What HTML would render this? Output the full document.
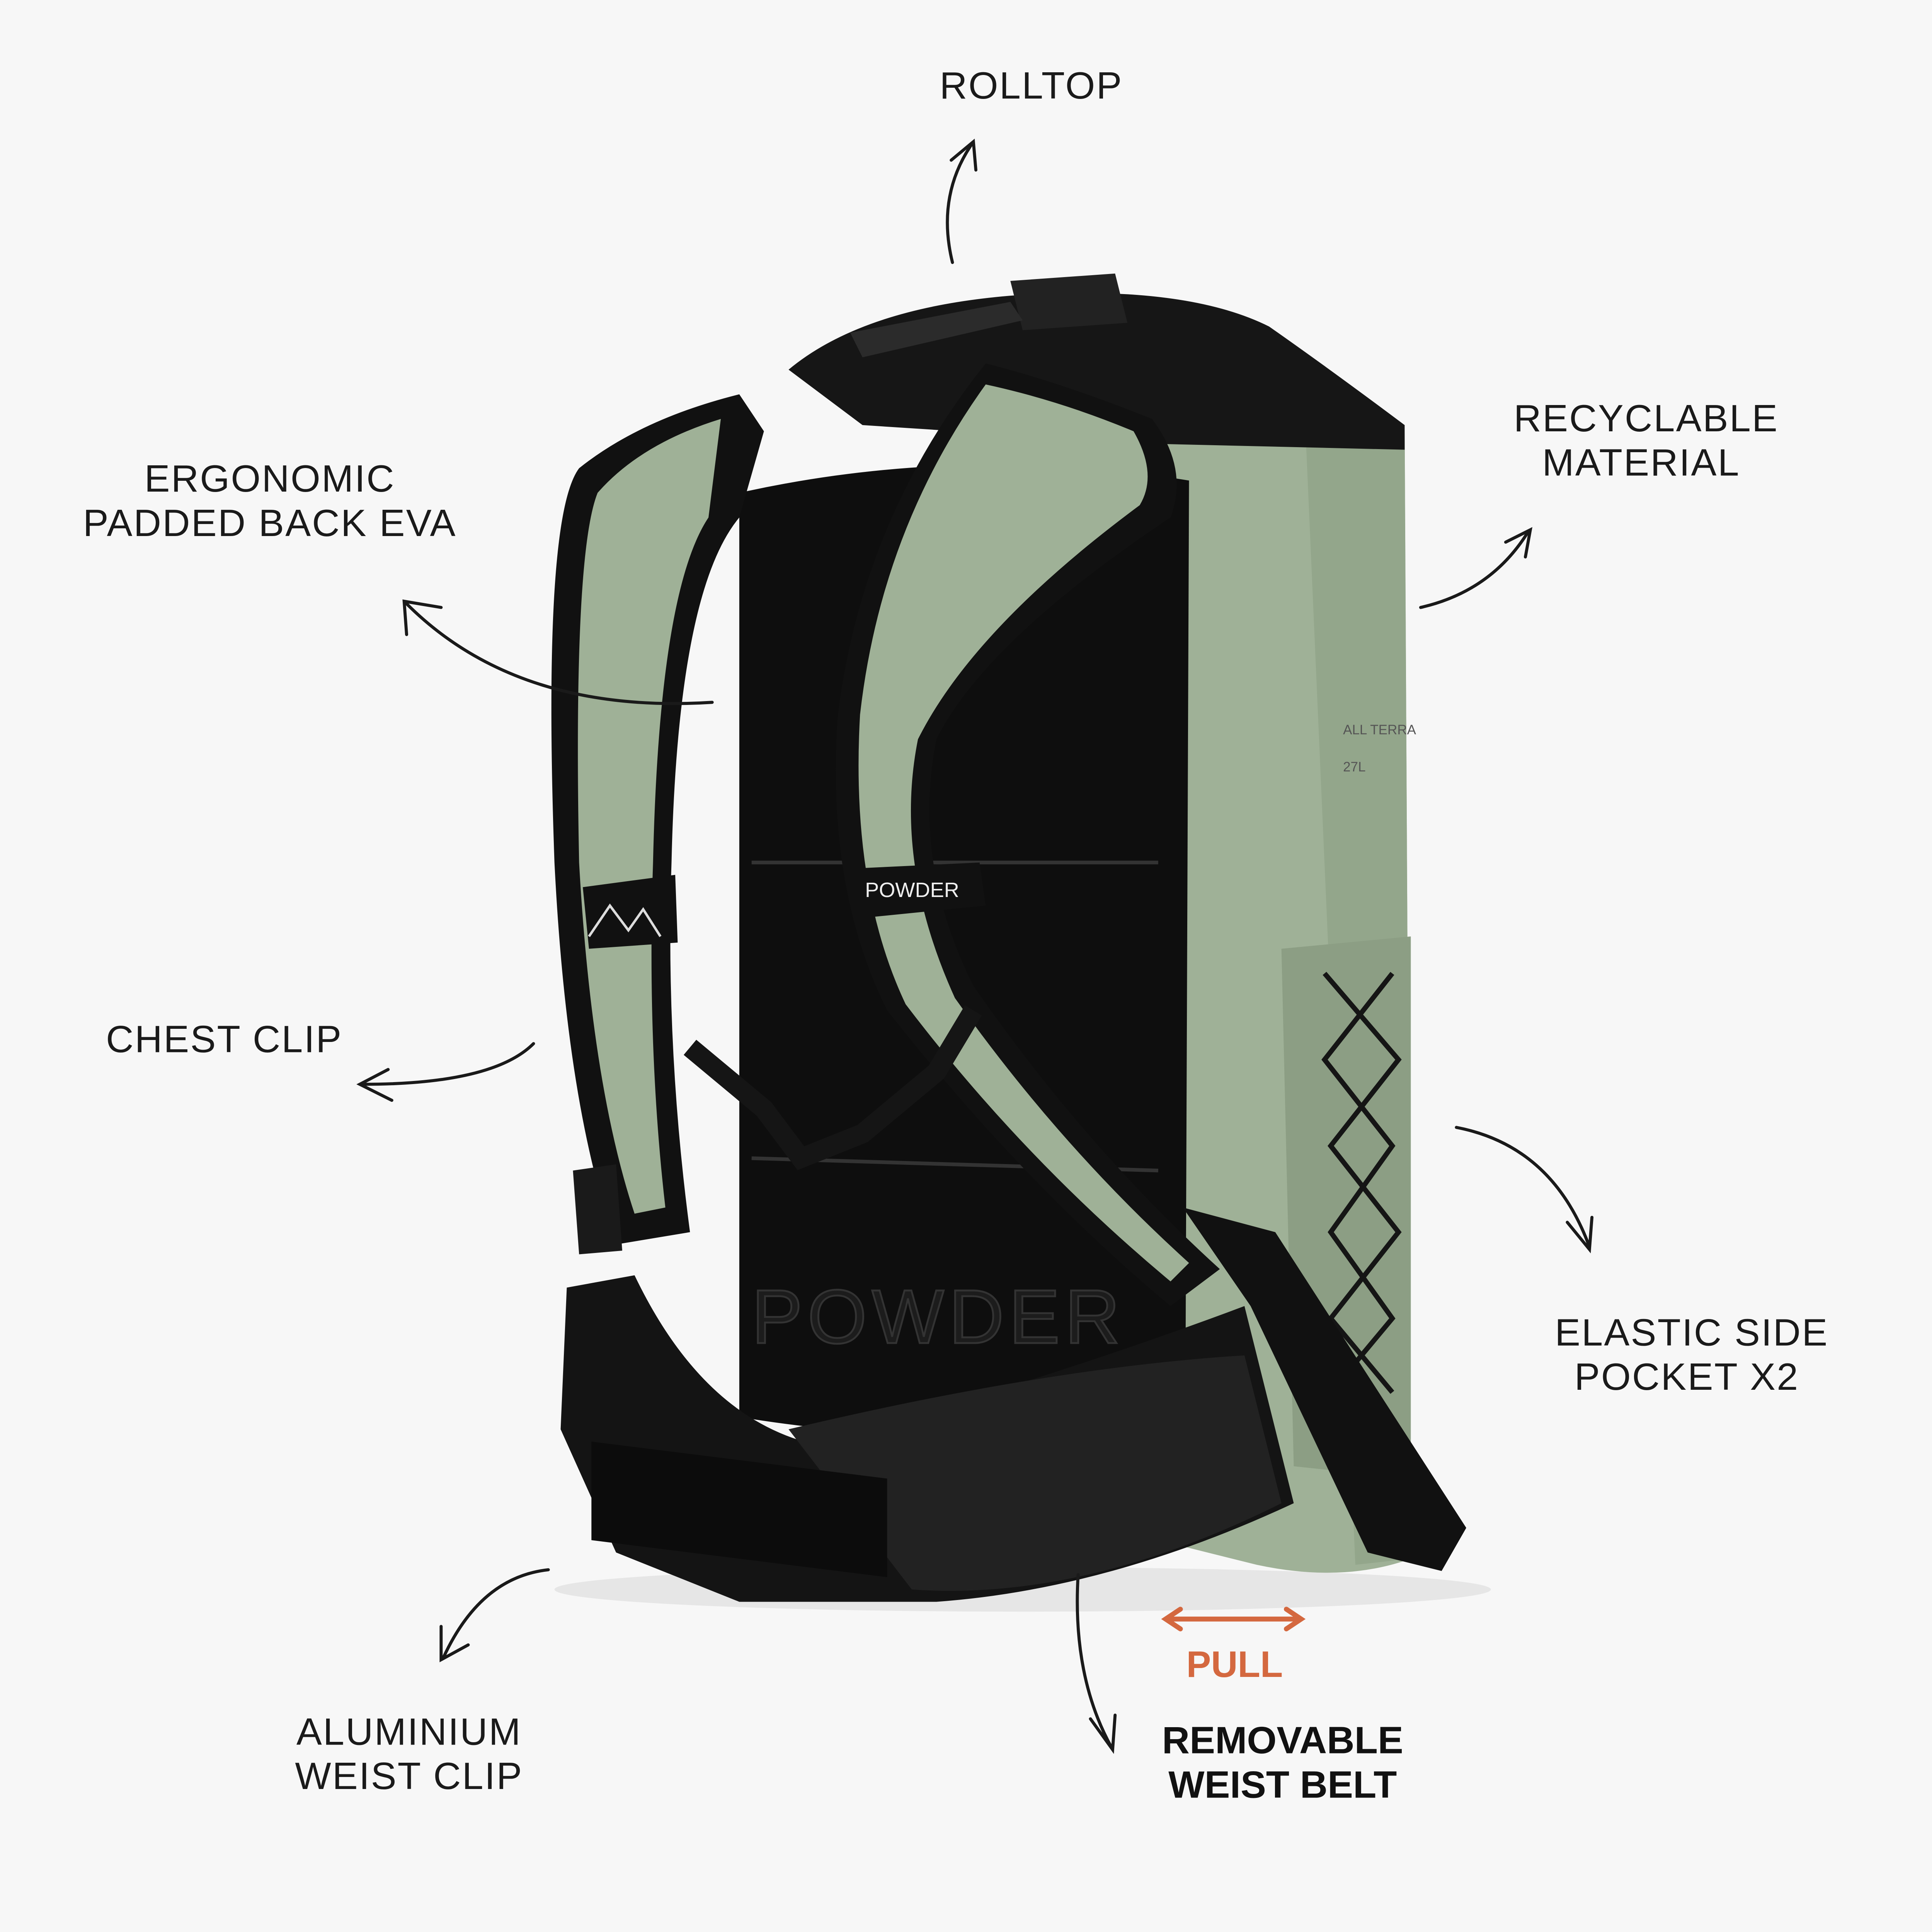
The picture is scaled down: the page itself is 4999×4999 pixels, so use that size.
<!DOCTYPE html>
<html><head><meta charset="utf-8"><style>
html,body{margin:0;padding:0;background:#f7f7f7;}
svg{display:block;}
text{font-family:"Liberation Sans",sans-serif;}
.l{font-size:31px;fill:#1a1a1a;letter-spacing:1px;}
.b{font-size:31px;fill:#111;font-weight:bold;}
.arr{fill:none;stroke:#1a1a1a;stroke-width:2.5;stroke-linecap:round;}
</style></head><body>
<svg width="4999" height="4999" viewBox="0 0 1568 1568" xmlns="http://www.w3.org/2000/svg">
<rect width="1568" height="1568" fill="#f7f7f7"/>
<ellipse cx="830" cy="1290" rx="380" ry="18" fill="#e6e6e6"/>
<path d="M930 345 L1140 345 L1145 1265 Q1090 1285 1020 1270 L940 1250 Z" fill="#9fb197"/>
<path d="M1060 360 L1140 350 L1145 1265 L1100 1270 Z" fill="#93a68b"/>
<path d="M640 300 Q700 250 820 240 Q960 230 1030 265 Q1080 300 1140 345 L1140 365 L930 360 L700 345 Z" fill="#161616"/>
<path d="M820 228 L905 222 L915 262 L830 268 Z" fill="#222"/>
<path d="M690 270 L820 245 L830 260 L700 290 Z" fill="#2b2b2b"/>
<path d="M600 400 Q780 360 965 390 L962 1150 Q780 1180 600 1150 Z" fill="#0e0e0e"/>
<path d="M610 700 L940 700 M610 940 L940 950" stroke="#333" stroke-width="3"/>
<text x="610" y="1090" font-size="62" fill="#1c1c1c" stroke="#333" stroke-width="1.5" style="font-family:'Liberation Sans',sans-serif;letter-spacing:4px">POWDER</text>
<path d="M600 320 Q520 340 470 380 Q440 420 450 700 Q460 900 500 1010 L560 1000 Q540 850 545 700 Q550 480 600 420 L620 350 Z" fill="#111"/>
<path d="M585 340 Q520 360 485 400 Q465 450 470 700 Q480 880 515 985 L540 980 Q525 850 530 700 Q535 480 575 420 Z" fill="#9fb197"/>
<path d="M473 720 L548 710 L550 765 L478 770 Z" fill="#111"/>
<path d="M478 760 L495 735 L510 755 L522 738 L536 760" stroke="#ddd" stroke-width="2" fill="none"/>
<path d="M800 295 Q860 310 935 340 Q965 380 950 420 Q800 520 760 600 Q740 700 790 800 Q880 930 990 1030 L950 1060 Q830 960 720 820 Q670 720 680 580 Q700 420 800 295 Z" fill="#111"/>
<path d="M800 312 Q860 325 920 350 Q940 385 925 410 Q790 510 745 600 Q725 700 775 810 Q860 930 965 1025 L950 1040 Q830 940 735 815 Q690 720 698 580 Q715 430 800 312 Z" fill="#9fb197"/>
<path d="M690 705 L795 700 L800 735 L700 745 Z" fill="#111"/>
<text x="702" y="728" font-size="17" fill="#eee" style="font-family:'Liberation Sans',sans-serif">POWDER</text>
<path d="M560 850 L620 900 L650 940 L700 920 L760 870 L790 820" stroke="#151515" stroke-width="16" fill="none"/>
<path d="M1040 770 L1145 760 L1145 1200 L1050 1190 Z" fill="#8c9e84"/>
<path d="M1075 790 L1135 860 L1080 930 L1135 1000 L1080 1070 L1130 1130 M1130 790 L1075 860 L1130 930 L1080 1000 L1130 1070 L1080 1130" stroke="#151515" stroke-width="4" fill="none"/>
<text x="1090" y="596" font-size="11" fill="#555">ALL TERRA</text>
<text x="1090" y="626" font-size="11" fill="#555">27L</text>
<path d="M460 1045 L515 1035 Q570 1150 660 1172 Q850 1120 1010 1060 L1050 1220 Q900 1290 760 1300 L600 1300 L500 1260 L455 1160 Z" fill="#141414"/>
<path d="M640 1160 Q850 1110 1010 1100 L1040 1220 Q880 1300 740 1290 Z" fill="#222"/>
<path d="M480 1170 L720 1200 L720 1280 L480 1250 Z" fill="#0c0c0c"/>
<path d="M465 950 L500 945 L505 1015 L470 1018 Z" fill="#1a1a1a"/>
<path d="M960 980 L1035 1000 L1190 1240 L1170 1275 L1110 1260 L1015 1060 Z" fill="#111"/>

<text class="l" x="837" y="80" text-anchor="middle">ROLLTOP</text>
<text class="l" x="1336" y="350" text-anchor="middle">RECYCLABLE</text>
<text class="l" x="1332" y="386" text-anchor="middle">MATERIAL</text>
<text class="l" x="219" y="399" text-anchor="middle">ERGONOMIC</text>
<text class="l" x="219" y="435" text-anchor="middle">PADDED BACK EVA</text>
<text class="l" x="182" y="854" text-anchor="middle">CHEST CLIP</text>
<text class="l" x="1373" y="1092" text-anchor="middle">ELASTIC SIDE</text>
<text class="l" x="1369" y="1128" text-anchor="middle">POCKET X2</text>
<text class="l" x="332" y="1416" text-anchor="middle">ALUMINIUM</text>
<text class="l" x="332" y="1452" text-anchor="middle">WEIST CLIP</text>
<text class="b" x="1041" y="1423" text-anchor="middle">REMOVABLE</text>
<text class="b" x="1041" y="1459" text-anchor="middle">WEIST BELT</text>
<text x="1002" y="1361" text-anchor="middle" font-size="30" font-weight="bold" fill="#d4683f">PULL</text>
<path d="M948 1314 L1054 1314 M958 1306 L946 1314 L958 1322 M1044 1306 L1056 1314 L1044 1322" stroke="#d4683f" stroke-width="4" fill="none" stroke-linecap="round"/>

<path class="arr" d="M773 213 Q760 160 788 118 M772 130 L790 115 L792 138"/>
<path class="arr" d="M1153 493 Q1210 480 1240 432 M1222 440 L1242 430 L1238 452"/>
<path class="arr" d="M578 570 Q420 580 330 490 M330 515 L328 488 L358 493" stroke-width="4"/>
<path class="arr" d="M433 847 Q400 880 295 880 M315 868 L292 880 L318 893"/>
<path class="arr" d="M1182 915 Q1260 930 1290 1012 M1272 992 L1290 1014 L1292 988"/>
<path class="arr" d="M445 1274 Q390 1280 360 1345 M358 1320 L358 1347 L380 1335"/>
<path class="arr" d="M875 1278 Q870 1360 902 1418 M885 1395 L903 1420 L905 1392"/>
</svg>
</body></html>
